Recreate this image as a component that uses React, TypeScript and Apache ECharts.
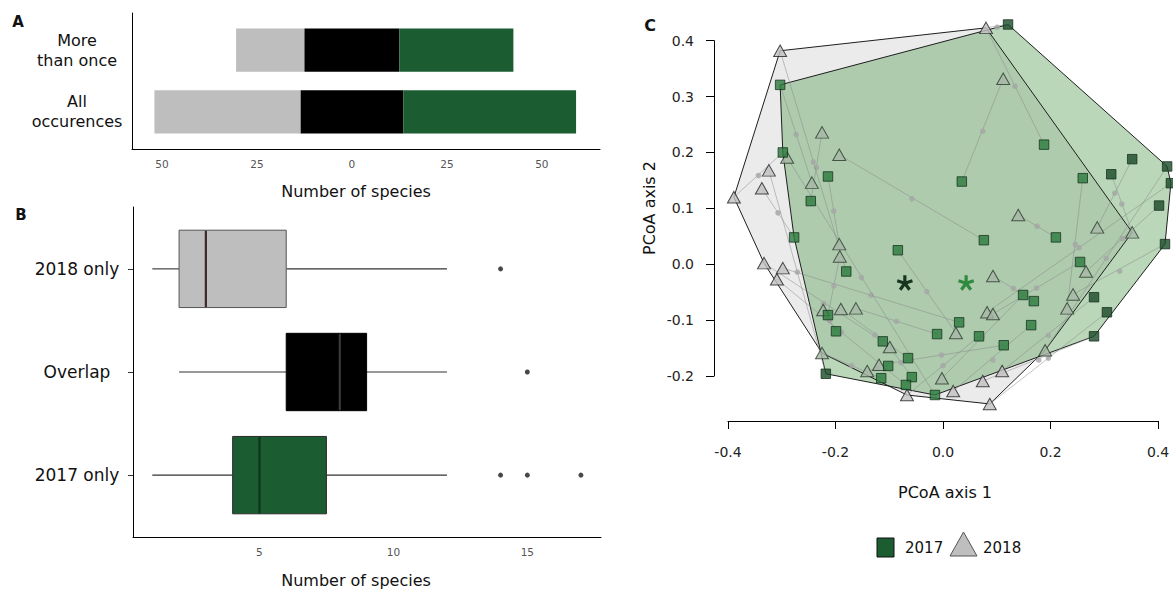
import React, { useEffect, useRef } from "react";
import * as echarts from "echarts";

// ---------- Panel A: number of species ----------
const occurrenceCategories = ["All\noccurences", "More\nthan once"];
const only2018Counts = [38.5, 18];
const overlapCounts = [27, 25];
const only2017Counts = [45.5, 30];
const occurrenceTicks = [-50, -25, 0, 25, 50];

// ---------- Panel B: boxplots ----------
const boxCategories = ["2017 only", "Overlap", "2018 only"];
// [min, q1, median, q3, max]
const boxStats = [
  [1, 4, 5, 7.5, 12],
  [2, 6, 8, 9, 12],
  [1, 2, 3, 6, 12],
];
// [categoryIndex, value]
const boxOutliers = [
  [0, 14],
  [0, 15],
  [0, 17],
  [1, 15],
  [2, 14],
];
const boxTicks = [5, 10, 15];

// ---------- Panel C: PCoA ----------
const points2017 = [
  [0.121, 0.429], [-0.303, 0.321], [0.188, 0.214], [0.035, 0.148], [0.26, 0.154],
  [0.313, 0.161], [0.352, 0.188], [0.417, 0.175], [0.424, 0.145], [0.402, 0.105],
  [0.413, 0.036], [0.21, 0.048], [0.076, 0.043], [0.255, 0.004], [-0.298, 0.2],
  [-0.214, 0.157], [-0.246, 0.113], [-0.277, 0.048], [-0.084, 0.025], [-0.18, -0.013],
  [0.149, -0.055], [0.169, -0.066], [0.281, -0.059], [0.305, -0.086], [0.281, -0.129],
  [0.164, -0.109], [0.067, -0.129], [0.113, -0.145], [0.03, -0.104], [-0.011, -0.125],
  [-0.214, -0.091], [-0.199, -0.12], [-0.112, -0.138], [-0.065, -0.168], [-0.102, -0.182],
  [-0.115, -0.204], [-0.058, -0.202], [-0.069, -0.216], [-0.015, -0.234], [-0.218, -0.196],
];
const points2018 = [
  [-0.303, 0.382], [0.08, 0.423], [0.112, 0.332], [-0.225, 0.236], [-0.193, 0.196],
  [-0.324, 0.168], [-0.337, 0.136], [-0.389, 0.12], [-0.29, 0.191], [-0.244, 0.146],
  [-0.193, 0.036], [-0.192, 0.014], [-0.333, 0.002], [-0.298, -0.007], [-0.309, -0.027],
  [0.14, 0.088], [0.287, 0.066], [0.352, 0.057], [0.093, -0.021], [0.266, -0.013],
  [0.242, -0.054], [0.231, -0.079], [0.082, -0.086], [0.093, -0.089], [0.19, -0.154],
  [0.11, -0.191], [0.074, -0.209], [0.087, -0.25], [-0.223, -0.082], [-0.19, -0.08],
  [-0.162, -0.079], [-0.099, -0.148], [-0.225, -0.159], [-0.119, -0.18], [-0.141, -0.191],
  [-0.002, -0.204], [0.019, -0.227], [-0.067, -0.234], [0.024, -0.123],
];
// [index in points2017, index in points2018] : same site in both years
const sitePairs = [
  [3, 2], [2, 1], [12, 4], [1, 9], [16, 3], [19, 0], [14, 7], [17, 6], [11, 15], [5, 17],
  [6, 16], [9, 19], [10, 20], [18, 38], [21, 18], [0, 1], [4, 21], [7, 24], [8, 22], [13, 23],
  [15, 10], [20, 35], [22, 25], [23, 27], [24, 26], [25, 36], [26, 37], [27, 33], [28, 13], [29, 30],
  [30, 11], [31, 28], [32, 12], [33, 29], [34, 34], [35, 32], [36, 31], [37, 14], [38, 8], [39, 5],
];
const centroids = [
  [-0.071, -0.034],
  [0.043, -0.034],
];

// ---------- styles ----------
const GREEN = "#1b5c30";
const GRAY = "#bebebe";
const barColors = [GRAY, "#000000", GREEN];
const boxFills = [GREEN, "#000000", GRAY];
const boxBorders = ["#2a2a2a", "#000000", "#555555"];
const medianColors = ["#0e361b", "#3a3a3a", "#3a2a2a"];
const centroidColors = ["#17361f", "#2f8a3f"];
const FONT = "DejaVu Sans";

function convexHull(pts: number[][]): number[][] {
  const p = pts.slice().sort((a, b) => (a[0] === b[0] ? a[1] - b[1] : a[0] - b[0]));
  const cross = (o: number[], a: number[], b: number[]) =>
    (a[0] - o[0]) * (b[1] - o[1]) - (a[1] - o[1]) * (b[0] - o[0]);
  const lower: number[][] = [];
  for (const q of p) {
    while (lower.length >= 2 && cross(lower[lower.length - 2], lower[lower.length - 1], q) <= 0) lower.pop();
    lower.push(q);
  }
  const upper: number[][] = [];
  for (let i = p.length - 1; i >= 0; i--) {
    const q = p[i];
    while (upper.length >= 2 && cross(upper[upper.length - 2], upper[upper.length - 1], q) <= 0) upper.pop();
    upper.push(q);
  }
  upper.pop();
  lower.pop();
  return lower.concat(upper);
}

function insideHull(hull: number[][], q: number[]): boolean {
  for (let i = 0; i < hull.length; i++) {
    const a = hull[i];
    const b = hull[(i + 1) % hull.length];
    const c = (b[0] - a[0]) * (q[1] - a[1]) - (b[1] - a[1]) * (q[0] - a[0]);
    if (c < 0) return false;
  }
  return true;
}

function txt(text: string, x: number, y: number, font: string, align = "center", extra: any = {}) {
  return {
    type: "text",
    x,
    y,
    ...extra,
    style: {
      text,
      font,
      fill: "#111",
      textAlign: align,
      textVerticalAlign: "middle",
      align,
      verticalAlign: "middle",
    },
  };
}

function buildOption(): any {
  const hull2017 = convexHull(points2017);
  const hull2018 = convexHull(points2018);
  const hulls = [hull2018, hull2017];
  const hullFills = ["rgba(200,200,200,0.36)", "rgba(90,160,90,0.42)"];

  const tickLabelA = { color: "#555555", fontFamily: FONT, fontSize: 10.5 };
  const axisLineBlack = { show: true, onZero: false, lineStyle: { color: "#000", width: 1 } };

  const fmt1 = (v: number) => (Math.abs(v) < 1e-9 ? "0.0" : v.toFixed(1));

  return {
    animation: false,
    textStyle: { fontFamily: FONT },
    grid: [
      { left: 132, top: 13, width: 468, height: 136 },
      { left: 133, top: 207, width: 468, height: 330 },
      { left: 728, top: 40.7, width: 430, height: 335.3 },
    ],
    xAxis: [
      {
        gridIndex: 0,
        type: "value",
        min: -57.9,
        max: 65.3,
        axisLine: axisLineBlack,
        axisTick: { show: false },
        splitLine: { show: false },
        axisLabel: {
          ...tickLabelA,
          margin: 9,
          customValues: occurrenceTicks,
          formatter: (v: number) => String(Math.abs(v)),
        },
      },
      {
        gridIndex: 1,
        type: "value",
        min: 0.28,
        max: 17.75,
        axisLine: axisLineBlack,
        axisTick: { show: false },
        splitLine: { show: false },
        axisLabel: { ...tickLabelA, margin: 9, customValues: boxTicks },
      },
      {
        gridIndex: 2,
        type: "value",
        min: -0.4,
        max: 0.4,
        interval: 0.2,
        offset: 45,
        axisLine: axisLineBlack,
        axisTick: { show: true, length: 8, lineStyle: { color: "#000" } },
        splitLine: { show: false },
        axisLabel: { color: "#222", fontSize: 14, margin: 24, formatter: fmt1 },
      },
    ],
    yAxis: [
      {
        gridIndex: 0,
        type: "value",
        min: 0.4,
        max: 2.6,
        axisLine: axisLineBlack,
        axisTick: { show: false },
        splitLine: { show: false },
        axisLabel: {
          customValues: [1, 2],
          formatter: (v: number) => occurrenceCategories[Math.round(v) - 1],
          align: "center",
          margin: 55,
          fontSize: 16,
          lineHeight: 20,
          color: "#111",
        },
      },
      {
        gridIndex: 1,
        type: "value",
        min: 0.4,
        max: 3.6,
        axisLine: axisLineBlack,
        axisTick: { show: true, length: 5, customValues: [1, 2, 3], lineStyle: { color: "#333" } },
        splitLine: { show: false },
        axisLabel: {
          customValues: [1, 2, 3],
          formatter: (v: number) => boxCategories[Math.round(v) - 1],
          align: "center",
          margin: 56,
          fontSize: 17,
          color: "#111",
        },
      },
      {
        gridIndex: 2,
        type: "value",
        min: -0.2,
        max: 0.4,
        interval: 0.1,
        offset: 14,
        axisLine: axisLineBlack,
        axisTick: { show: true, length: 8, lineStyle: { color: "#000" } },
        splitLine: { show: false },
        axisLabel: { color: "#222", fontSize: 14, margin: 20, formatter: fmt1 },
      },
    ],
    graphic: [
      txt("A", 18, 22, `bold 15px "${FONT}"`),
      txt("B", 21, 215, `bold 15px "${FONT}"`),
      txt("C", 650, 25, `bold 16px "${FONT}"`),
      txt("Number of species", 356, 191, `16px "${FONT}"`),
      txt("Number of species", 356, 580, `16px "${FONT}"`),
      txt("PCoA axis 1", 945, 492, `16px "${FONT}"`),
      txt("PCoA axis 2", 649, 208, `16px "${FONT}"`, "center", { rotation: Math.PI / 2 }),
      { type: "rect", shape: { x: 877, y: 538, width: 17, height: 19 }, style: { fill: GREEN, stroke: "#111", lineWidth: 1 } },
      txt("2017", 905, 548, `15px "${FONT}"`, "left"),
      { type: "polygon", shape: { points: [[950, 556], [977, 556], [963.5, 532]] }, style: { fill: GRAY, stroke: "#555", lineWidth: 1 } },
      txt("2018", 983, 548, `15px "${FONT}"`, "left"),
    ],
    series: [
      // Panel A stacked bars
      {
        type: "custom",
        xAxisIndex: 0,
        yAxisIndex: 0,
        data: occurrenceCategories.map((_, i) => [0, i + 1]),
        renderItem: (params: any, api: any) => {
          const i = params.dataIndex;
          const y = i + 1;
          const half = overlapCounts[i] / 2;
          const segs = [
            [-half - only2018Counts[i], -half],
            [-half, half],
            [half, half + only2017Counts[i]],
          ];
          return {
            type: "group",
            children: segs.map((s, k) => {
              const p1 = api.coord([s[0], y + 0.35]);
              const p2 = api.coord([s[1], y - 0.35]);
              return {
                type: "rect",
                shape: { x: p1[0], y: p1[1], width: p2[0] - p1[0], height: p2[1] - p1[1] },
                style: { fill: barColors[k] },
              };
            }),
          };
        },
      },
      // Panel B boxplots
      {
        type: "custom",
        xAxisIndex: 1,
        yAxisIndex: 1,
        data: boxStats.map((s, i) => [s[2], i + 1]),
        renderItem: (params: any, api: any) => {
          const i = params.dataIndex;
          const s = boxStats[i];
          const y = i + 1;
          const c = (x: number, yy: number) => api.coord([x, yy]);
          const wl1 = c(s[0], y), wl2 = c(s[1], y), wr1 = c(s[3], y), wr2 = c(s[4], y);
          const b1 = c(s[1], y + 0.375), b2 = c(s[3], y - 0.375);
          const m1 = c(s[2], y + 0.375), m2 = c(s[2], y - 0.375);
          const lineStyle = { stroke: "#333", lineWidth: 1.1 };
          return {
            type: "group",
            children: [
              { type: "line", shape: { x1: wl1[0], y1: wl1[1], x2: wl2[0], y2: wl2[1] }, style: lineStyle },
              { type: "line", shape: { x1: wr1[0], y1: wr1[1], x2: wr2[0], y2: wr2[1] }, style: lineStyle },
              {
                type: "rect",
                shape: { x: b1[0], y: b1[1], width: b2[0] - b1[0], height: b2[1] - b1[1] },
                style: { fill: boxFills[i], stroke: boxBorders[i], lineWidth: 1 },
              },
              {
                type: "line",
                shape: { x1: m1[0], y1: m1[1] + 0.5, x2: m2[0], y2: m2[1] - 0.5 },
                style: { stroke: medianColors[i], lineWidth: 2.2 },
              },
            ],
          };
        },
      },
      {
        type: "scatter",
        xAxisIndex: 1,
        yAxisIndex: 1,
        symbol: "circle",
        symbolSize: 5,
        itemStyle: { color: "#1a1a1a" },
        data: boxOutliers.map((o) => [o[1], o[0] + 1]),
      },
      // Panel C hull fills
      {
        type: "custom",
        xAxisIndex: 2,
        yAxisIndex: 2,
        z: 1,
        data: hulls.map(() => [0, 0]),
        renderItem: (params: any, api: any) => {
          const h = hulls[params.dataIndex];
          return {
            type: "polygon",
            shape: { points: h.map((p) => api.coord(p)) },
            style: { fill: hullFills[params.dataIndex], stroke: "none" },
          };
        },
      },
      // hull outlines
      {
        type: "custom",
        xAxisIndex: 2,
        yAxisIndex: 2,
        z: 2,
        data: hulls.map(() => [0, 0]),
        renderItem: (params: any, api: any) => {
          const h = hulls[params.dataIndex];
          return {
            type: "polygon",
            shape: { points: h.map((p) => api.coord(p)) },
            style: { fill: "none", stroke: "#1e1e1e", lineWidth: 1 },
          };
        },
      },
      // site connectors with site midpoints
      {
        type: "custom",
        xAxisIndex: 2,
        yAxisIndex: 2,
        z: 3,
        data: sitePairs.map((p) => points2017[p[0]]),
        renderItem: (params: any, api: any) => {
          const pr = sitePairs[params.dataIndex];
          const a = api.coord(points2017[pr[0]]);
          const b = api.coord(points2018[pr[1]]);
          return {
            type: "group",
            children: [
              {
                type: "line",
                shape: { x1: a[0], y1: a[1], x2: b[0], y2: b[1] },
                style: { stroke: "rgba(135,135,135,0.55)", lineWidth: 0.9 },
              },
              {
                type: "circle",
                shape: { cx: (a[0] + b[0]) / 2, cy: (a[1] + b[1]) / 2, r: 2.8 },
                style: { fill: "rgba(165,165,165,0.8)" },
              },
            ],
          };
        },
      },
      {
        type: "scatter",
        name: "2018",
        xAxisIndex: 2,
        yAxisIndex: 2,
        z: 4,
        clip: false,
        symbol: "triangle",
        symbolSize: [13, 11.5],
        data: points2018.map((p) => ({
          value: p,
          itemStyle: {
            color: insideHull(hull2017, p) ? "#a7b7a7" : "#c0c0c0",
            borderColor: insideHull(hull2017, p) ? "#2a3a2a" : "#222",
            borderWidth: 1,
          },
        })),
      },
      {
        type: "scatter",
        name: "2017",
        xAxisIndex: 2,
        yAxisIndex: 2,
        z: 4,
        clip: false,
        symbol: "rect",
        symbolSize: 9.5,
        data: points2017.map((p) => ({
          value: p,
          itemStyle: {
            color: insideHull(hull2018, p) ? "#2c7a3c" : "#1a4a29",
            borderColor: "#102a18",
            borderWidth: 0.9,
          },
        })),
      },
      // centroids
      {
        type: "custom",
        xAxisIndex: 2,
        yAxisIndex: 2,
        z: 5,
        data: centroids,
        renderItem: (params: any, api: any) => {
          const c = api.coord(centroids[params.dataIndex]);
          const col = centroidColors[params.dataIndex];
          const children = [0, 1, 2, 3, 4].map((k) => {
            const ang = -Math.PI / 2 + (k * 2 * Math.PI) / 5;
            return {
              type: "line",
              shape: { x1: c[0], y1: c[1], x2: c[0] + 8 * Math.cos(ang), y2: c[1] + 8 * Math.sin(ang) },
              style: { stroke: col, lineWidth: 3.2 },
            };
          });
          return { type: "group", children };
        },
      },
    ],
  };
}

export default function App() {
  const ref = useRef<HTMLDivElement>(null);
  useEffect(() => {
    document.body.style.margin = "0";
    const chart = echarts.init(ref.current as HTMLDivElement, null, { renderer: "svg" });
    chart.setOption(buildOption());
    return () => chart.dispose();
  }, []);
  return <div ref={ref} style={{ width: 1173, height: 589 }} />;
}
